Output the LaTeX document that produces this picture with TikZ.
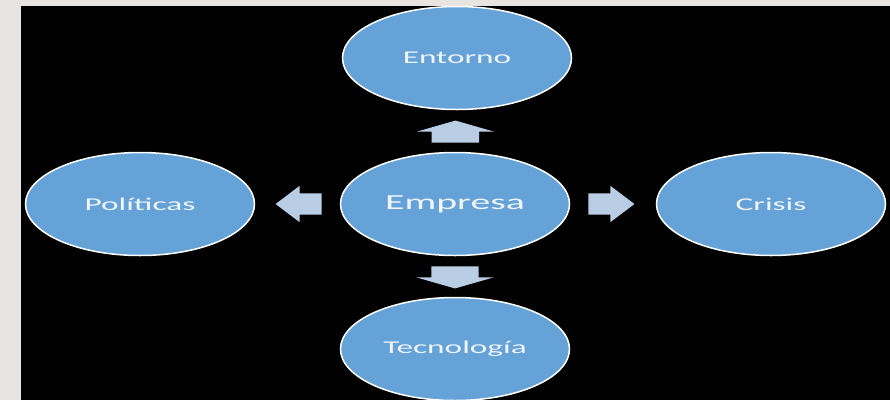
\documentclass[tikz,border=0pt]{standalone}
\usepackage{fontspec}
\setmainfont{Carlito}
\usepackage{graphicx}
\usetikzlibrary{shapes.geometric,shapes.arrows,calc}
\definecolor{pagegray}{RGB}{231,228,225}
\definecolor{ovalblue}{RGB}{101,162,216}
\definecolor{arrowblue}{RGB}{185,205,229}
\definecolor{softwhite}{RGB}{240,245,250}
\newcommand{\widetext}[1]{\scalebox{1.85}[1]{#1}}
\tikzset{
  oval/.style={ellipse, draw=white, line width=1.5pt, fill=ovalblue, text=softwhite,
               minimum width=229pt, minimum height=103pt, inner sep=0pt,
               font=\fontsize{18}{20}\selectfont},
  blockarrow/.style={single arrow, fill=arrowblue, draw=none, inner xsep=0pt,
                     single arrow head indent=0pt, rotate=#1, anchor=tail},
  tallarrow/.style={blockarrow=#1, inner ysep=23.5pt, minimum height=22pt,
                    minimum width=0pt, single arrow head extend=15pt,
                    single arrow tip angle=148},
  widearrow/.style={blockarrow=#1, inner ysep=10.5pt, minimum height=46pt,
                    minimum width=0pt, single arrow head extend=7.5pt,
                    single arrow tip angle=74},
}
\begin{document}
\begin{tikzpicture}[x=1pt, y=-1pt]
\useasboundingbox (0,0) rectangle (890,400);
\fill[pagegray] (0,0) rectangle (890,400);
\fill[black] (21,6) rectangle (890,400);

% the five ovals
\node[oval, font=\fontsize{21.5}{24}\selectfont] (empresa) at (455,204) {\widetext{Empresa}};
\node[oval] (entorno) at (457,58) {\widetext{Entorno}};
\node[oval] (politicas) at (140,204) {\widetext{Políticas}};
\node[oval] (crisis) at (771,204) {\widetext{Crisis}};
\node[oval] (tecnologia) at (455,349) {\widetext{Tecnología}};

% block arrows, tails just off the centre oval
\node[tallarrow=90] (toentorno) at ($(empresa.north)!9pt!(entorno.south)$) {};
\node[tallarrow=270] (totecnologia) at ($(empresa.south)!10pt!(tecnologia.north)$) {};
\node[widearrow=180] (topoliticas) at ($(empresa.west)!18pt!(politicas.east)$) {};
\node[widearrow=0] (tocrisis) at ($(empresa.east)!18pt!(crisis.west)$) {};

\end{tikzpicture}
\end{document}
